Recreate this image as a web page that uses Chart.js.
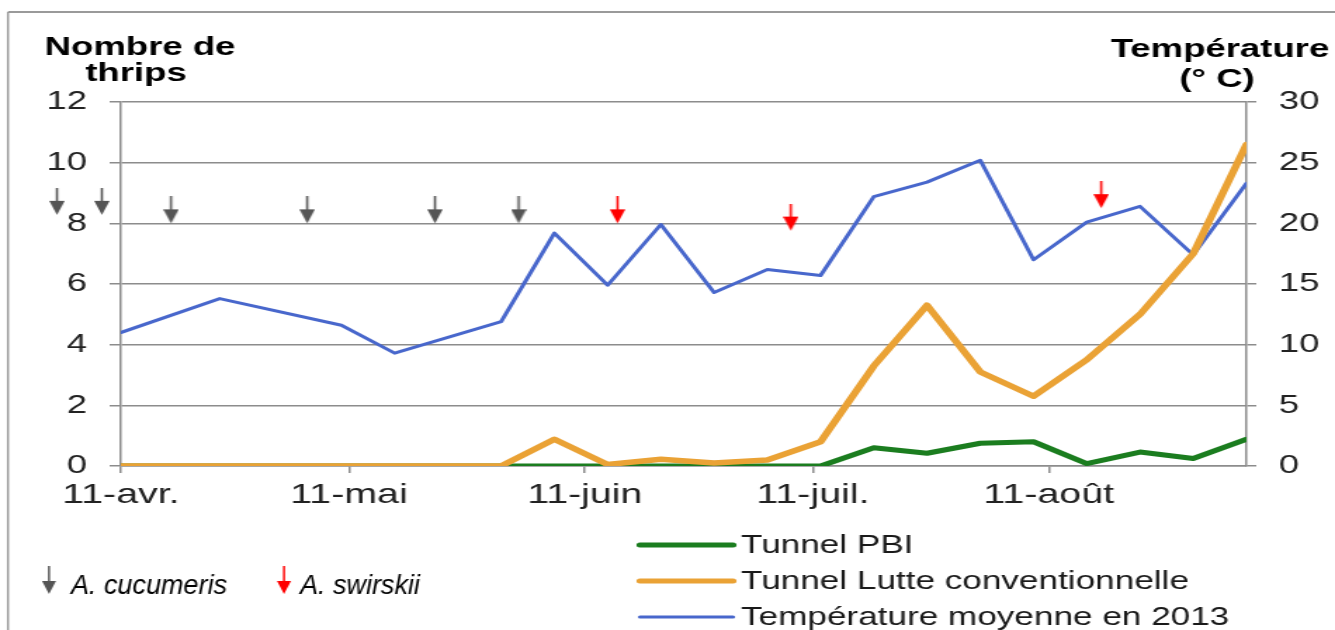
<!DOCTYPE html>
<html>
<head>
<meta charset="utf-8">
<script src="https://cdn.jsdelivr.net/npm/chart.js@4"></script>
<style>
  html, body { margin: 0; padding: 0; background: #fff; overflow: hidden; }
  #wrap { width: 950px; height: 630px; transform: scaleX(1.405263); transform-origin: 0 0; }
</style>
</head>
<body>
<div id="wrap"><canvas id="thripschart" width="950" height="630"></canvas></div>
<script>
// days counted from 11 April 2013
var sampleDays = [0, 13, 29, 36, 50, 57, 64, 71, 78, 85, 92, 99, 106, 113, 120, 127, 134, 141, 148];
var thripsPBI  = [0, 0, 0, 0, 0, 0, 0, 0, 0, 0, 0, 0.6, 0.42, 0.75, 0.8, 0.08, 0.46, 0.25, 0.88];
var thripsConv = [0, 0, 0, 0, 0, 0.88, 0.05, 0.22, 0.1, 0.2, 0.8, 3.3, 5.3, 3.1, 2.3, 3.5, 5.0, 7.0, 10.6];
var tempMoy    = [11.0, 13.8, 11.6, 9.3, 11.9, 19.2, 14.9, 19.9, 14.3, 16.2, 15.7, 22.2, 23.4, 25.2, 17.0, 20.1, 21.4, 17.4, 23.3];

var monthTickDays = [0, 30, 61, 91, 122];
var monthTickLabels = ['11-avr.', '11-mai', '11-juin', '11-juil.', '11-août'];

// release dates of predators (arrow tips on the left axis)
// the two before 11-avr. are listed last so chart.js does not skip them (unsorted data)
var cucumerisDays = [6.6, 24.5, 41.3, 52.3, -8.4, -2.5];
var cucumerisTip  = [8.0, 8.0, 8.0, 8.0, 8.28, 8.28];
var swirskiiDays  = [65.3, 88.1, 128.9];
var swirskiiTip   = [8.0, 7.76, 8.5];

var S = 1335 / 950;
var FONT = "'Liberation Sans', Arial, sans-serif";
var GREEN = '#1b7d1f', ORANGE = '#eaa235', BLUE = '#4867cc', GRID = '#8c8c8c';
var GRAYARROW = '#555555', REDARROW = '#ff0000';

Chart.defaults.font.family = FONT;

function toXY(xs, ys) {
    return xs.map(function (x, i) { return { x: x, y: ys[i] }; });
}

// arrow image, tip at the centre of the canvas
function makeArrow(color) {
    var w = 11, len = 27;
    var c = document.createElement('canvas');
    c.width = w; c.height = len * 2;
    var g = c.getContext('2d');
    g.fillStyle = color;
    g.fillRect(w / 2 - 0.8, 0, 1.6, len - 12);
    g.beginPath();
    g.moveTo(0, len - 14);
    g.lineTo(w, len - 14);
    g.lineTo(w / 2, len);
    g.closePath();
    g.fill();
    return c;
}

function drawArrow(ctx, x, yTop, yTip, color) {
    ctx.fillStyle = color;
    ctx.fillRect(x - 1, yTop, 2, yTip - yTop - 10);
    ctx.beginPath();
    ctx.moveTo(x - 7, yTip - 13);
    ctx.lineTo(x + 7, yTip - 13);
    ctx.lineTo(x, yTip);
    ctx.closePath();
    ctx.fill();
}

var decor = {
    id: 'decor',
    beforeDraw: function (chart) {
        var ctx = chart.ctx;
        ctx.save();
        ctx.fillStyle = '#fff';
        ctx.fillRect(0, 0, chart.width, chart.height);
        ctx.strokeStyle = '#9a9a9a';
        ctx.lineWidth = 2;
        ctx.beginPath(); ctx.moveTo(8 / S, 12); ctx.lineTo(chart.width, 12); ctx.stroke();
        ctx.lineWidth = 2 / S;
        ctx.beginPath(); ctx.moveTo(8 / S, 12); ctx.lineTo(8 / S, chart.height); ctx.stroke();
        ctx.restore();
    },
    afterDraw: function (chart) {
        var ctx = chart.ctx;
        ctx.save();
        // axis titles
        ctx.fillStyle = '#000';
        ctx.font = 'bold 26px ' + FONT;
        ctx.textAlign = 'center';
        ctx.textBaseline = 'alphabetic';
        ctx.fillText('Nombre de', 140 / S, 55);
        ctx.fillText('thrips', 136 / S, 81);
        ctx.fillText('Température', 1220 / S, 57);
        ctx.fillText('(° C)', 1217 / S, 87);

        // legend of the three lines
        ctx.textAlign = 'left';
        ctx.textBaseline = 'middle';
        ctx.font = '25px ' + FONT;
        var rows = [545, 581, 617];
        for (var i = 0; i < 3; i++) {
            var ds = chart.data.datasets[i];
            ctx.strokeStyle = ds.borderColor;
            ctx.lineWidth = ds.borderWidth > 4 ? 5 : 3;
            ctx.lineCap = 'round';
            ctx.beginPath();
            ctx.moveTo(640 / S, rows[i]);
            ctx.lineTo(733 / S, rows[i]);
            ctx.stroke();
            ctx.fillStyle = '#1a1a1a';
            ctx.fillText(ds.label, 741 / S, rows[i] + 1);
        }

        // predator legend (not stretched)
        ctx.scale(1 / S, 1);
        drawArrow(ctx, 49, 566, 594, GRAYARROW);
        drawArrow(ctx, 284, 566, 594, REDARROW);
        ctx.fillStyle = '#000';
        ctx.font = 'italic 27px ' + FONT;
        ctx.textBaseline = 'alphabetic';
        ctx.fillText('A. cucumeris', 71, 594);
        ctx.fillText('A. swirskii', 300, 594);
        ctx.restore();
    }
};

var ctx1 = document.getElementById('thripschart');
var myChart = new Chart(ctx1, {
    type: 'line',
    data: {
        datasets: [{
            label: 'Tunnel PBI',
            data: toXY(sampleDays, thripsPBI),
            borderColor: GREEN,
            borderWidth: 5,
            yAxisID: 'y',
            order: 3
        }, {
            label: 'Tunnel Lutte conventionnelle',
            data: toXY(sampleDays, thripsConv),
            borderColor: ORANGE,
            borderWidth: 5.5,
            yAxisID: 'y',
            order: 1
        }, {
            label: 'Température moyenne en 2013',
            data: toXY(sampleDays, tempMoy),
            borderColor: BLUE,
            borderWidth: 3,
            yAxisID: 'y2',
            order: 2
        }, {
            label: 'A. cucumeris',
            type: 'scatter',
            data: toXY(cucumerisDays, cucumerisTip),
            pointStyle: makeArrow(GRAYARROW),
            pointRadius: 50,
            showLine: false,
            clip: false,
            yAxisID: 'y',
            order: 0
        }, {
            label: 'A. swirskii',
            type: 'scatter',
            data: toXY(swirskiiDays, swirskiiTip),
            pointStyle: makeArrow(REDARROW),
            pointRadius: 50,
            showLine: false,
            clip: false,
            yAxisID: 'y',
            order: 0
        }]
    },
    options: {
        responsive: false,
        animation: false,
        events: [],
        layout: { padding: { top: 102, left: 0, right: 0, bottom: 0 } },
        elements: {
            line: { tension: 0, borderJoinStyle: 'round', borderCapStyle: 'round', fill: false },
            point: { radius: 0 }
        },
        plugins: {
            legend: { display: false },
            tooltip: { enabled: false }
        },
        scales: {
            x: {
                type: 'linear',
                min: 0,
                max: 148,
                afterBuildTicks: function (s) {
                    s.ticks = monthTickDays.map(function (v) { return { value: v }; });
                },
                ticks: {
                    callback: function (v, i) { return monthTickLabels[i]; },
                    font: { size: 28 },
                    color: '#222',
                    padding: 5,
                    maxRotation: 0,
                    autoSkip: false
                },
                grid: { drawOnChartArea: false, drawTicks: true, tickLength: 7, color: GRID, lineWidth: 1.5 },
                border: { color: GRID, width: 1.5 },
                afterFit: function (s) { s.height = 164; }
            },
            y: {
                position: 'left',
                min: 0,
                max: 12,
                ticks: { stepSize: 2, font: { size: 26 }, color: '#222', padding: 16 },
                grid: { color: GRID, lineWidth: 1.5, drawTicks: true, tickLength: 8 },
                border: { color: GRID, width: 1.5 },
                afterFit: function (s) { s.width = 86; }
            },
            y2: {
                position: 'right',
                min: 0,
                max: 30,
                ticks: { stepSize: 5, font: { size: 26 }, color: '#222', padding: 16 },
                grid: { drawOnChartArea: false, drawTicks: true, tickLength: 7, color: GRID, lineWidth: 1.5 },
                border: { color: GRID, width: 1.5 },
                afterFit: function (s) { s.width = 63; }
            }
        }
    },
    plugins: [decor]
});
</script>
</body>
</html>
